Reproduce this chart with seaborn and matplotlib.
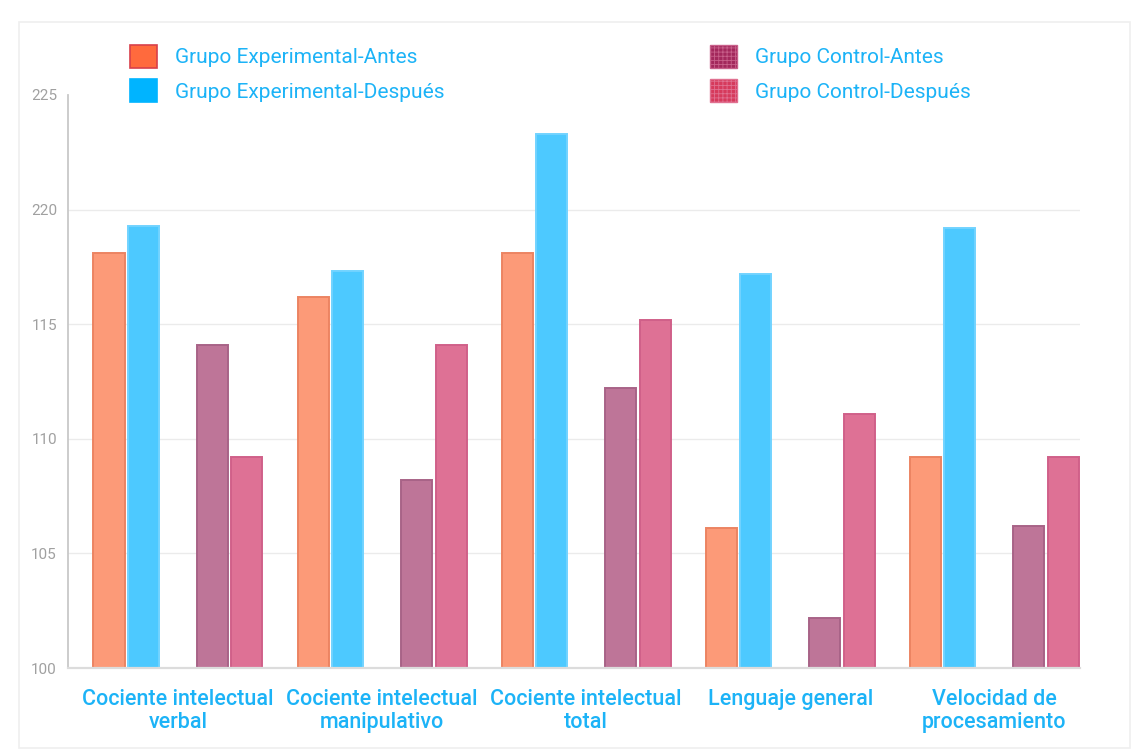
import matplotlib
matplotlib.use("Agg")
import matplotlib.pyplot as plt
from matplotlib.patches import Patch, Rectangle
import seaborn as sns
import pandas as pd
import numpy as np

categories = ["Cociente intelectual\nverbal", "Cociente intelectual\nmanipulativo",
              "Cociente intelectual\ntotal", "Lenguaje general", "Velocidad de\nprocesamiento"]
series = ["Grupo Experimental-Antes", "Grupo Experimental-Después",
          "Grupo Control-Antes", "Grupo Control-Después"]
exp_antes = [118.1, 116.2, 118.1, 106.1, 109.2]
exp_despues = [119.3, 117.3, 123.3, 117.2, 119.2]
ctrl_antes = [114.1, 108.2, 112.2, 102.2, 106.2]
ctrl_despues = [109.2, 114.1, 115.2, 111.1, 109.2]
y_ticks = [100, 105, 110, 115, 120, 125]
y_tick_labels = ["100", "105", "110", "115", "220", "225"]

fill_colors = ["#FC9A78", "#4DC9FF", "#BE7598", "#DE7195"]
edge_colors = ["#EC8462", "#72D3FF", "#A86387", "#D06089"]
legend_fill = ["#FF6A3D", "#00B4FF", "#A3285C", "#D63A5C"]
legend_edge = ["#D8404A", "#00B4FF", "#C8608A", "#E07090"]
text_blue = "#1CB3F7"

spacer = " "
rows = []
for s, vals in zip(series, [exp_antes, exp_despues, ctrl_antes, ctrl_despues]):
    for c, v in zip(categories, vals):
        rows.append({"cat": c, "serie": s, "val": v})
for c in categories:
    rows.append({"cat": c, "serie": spacer, "val": np.nan})
df = pd.DataFrame(rows)

sns.set_theme(style="white")
plt.rcParams["font.family"] = ["Roboto", "DejaVu Sans"]
plt.rcParams["hatch.linewidth"] = 0.6

fig = plt.figure(figsize=(11.34, 7.54), dpi=100)
ax = fig.add_axes([68/1134, 1-668/754, (1080-68)/1134, (668-95)/754])

hue_order = [series[0], series[1], spacer, series[2], series[3]]
palette = {series[0]: fill_colors[0], series[1]: fill_colors[1], spacer: "#ffffff",
           series[2]: fill_colors[2], series[3]: fill_colors[3]}
sns.barplot(data=df, x="cat", y="val", hue="serie", hue_order=hue_order,
            order=categories, palette=palette, width=0.845, gap=0.1,
            errorbar=None, legend=False, ax=ax, saturation=1)

color_map = dict(zip(series, zip(fill_colors, edge_colors)))
for cont, name in zip(ax.containers, hue_order):
    if name in color_map:
        fc, ec = color_map[name]
        for p in cont:
            p.set_facecolor(fc)
            p.set_edgecolor(ec)
            p.set_linewidth(1.4)

ax.set_ylim(100, 125)
ax.set_xlim(-0.539, 4.42)
ax.set_yticks(y_ticks)
ax.set_yticklabels(y_tick_labels)
ax.set_xlabel("")
ax.set_ylabel("")
ax.yaxis.grid(True, color="#ebebeb", linewidth=1)
ax.set_axisbelow(True)
ax.yaxis.get_gridlines()[-1].set_visible(False)
ax.yaxis.get_gridlines()[0].set_visible(False)
for side in ["top", "right"]:
    ax.spines[side].set_visible(False)
ax.spines["left"].set_color("#c8c8c8")
ax.spines["left"].set_linewidth(1.3)
ax.spines["bottom"].set_color("#dcdcdc")
ax.spines["bottom"].set_linewidth(1.6)
ax.tick_params(axis="y", length=0, pad=8, labelsize=11, labelcolor="#a0a0a0")
ax.tick_params(axis="x", length=0, pad=15, labelsize=15.5, labelcolor=text_blue)
for lab in ax.get_xticklabels():
    lab.set_fontweight("medium")
    lab.set_linespacing(1.15)

h1 = [Patch(facecolor=legend_fill[i], edgecolor=legend_edge[i], linewidth=1.2) for i in (0, 1)]
h2 = [Patch(facecolor=legend_fill[i], edgecolor=legend_edge[i], linewidth=1.0,
            hatch="++++") for i in (2, 3)]
common = dict(frameon=False, fontsize=15, handlelength=1.3, handleheight=1.3,
              handletextpad=0.85, labelspacing=0.55, borderpad=0, borderaxespad=0)
leg1 = fig.legend(h1, series[:2], loc="upper left",
                  bbox_to_anchor=(130/1134, 1-45/754), **common)
leg2 = fig.legend(h2, series[2:], loc="upper left",
                  bbox_to_anchor=(710/1134, 1-45/754), **common)
for leg in (leg1, leg2):
    for t in leg.get_texts():
        t.set_color(text_blue)

fig.patches.append(Rectangle((19/1134, 6/754), (1130-19)/1134, (732-6)/754,
                             transform=fig.transFigure, fill=False,
                             edgecolor="#efefef", linewidth=1.2))

fig.savefig("out.png", dpi=100)
